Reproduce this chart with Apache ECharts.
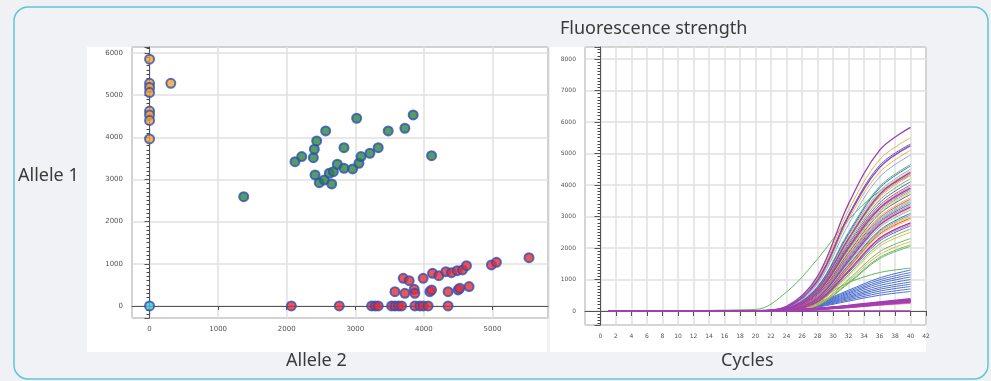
<!DOCTYPE html>
<html>
<head>
<meta charset="utf-8">
<title>Allele scatter and amplification curves</title>
<script src="https://cdn.jsdelivr.net/npm/echarts@6/dist/echarts.min.js"></script>
<style>
  html, body { margin: 0; padding: 0; background: #f0f1f4; }
  #chart { width: 991px; height: 381px; }
</style>
</head>
<body>
<div id="chart"></div>
<script>
// ---- scatter (Allele 2 on x, Allele 1 on y) ----
const allele1Points = [
  [0, 5850], [0, 5280], [0, 5180], [0, 5060], [0, 4620], [0, 4530], [0, 4400], [0, 3960], [310, 5280],
];
const heteroPoints = [
  [1373, 2590], [2121, 3422], [2219, 3541], [2388, 3517], [2403, 3716], [2437, 3913], [2568, 4150],
  [2413, 3106], [2475, 2924], [2548, 2988], [2656, 2893], [2621, 3147], [2680, 3185], [2738, 3360],
  [2835, 3265], [2835, 3754], [2961, 3249], [3053, 3384], [3083, 3541], [3213, 3621], [3334, 3754],
  [3020, 4451], [3480, 4150], [3723, 4214], [3844, 4529], [4112, 3564],
];
const allele2Points = [
  // bottom row
  [2067, 0], [2766, 0], [3238, 0], [3290, 0], [3334, 0], [3529, 0], [3578, 0], [3630, 0], [3675, 0],
  [3869, 0], [3941, 0], [3990, 0], [4062, 0], [4353, 0],
  // middle row
  [3578, 340], [3723, 301], [3859, 396], [3869, 300], [4087, 340], [4112, 380], [4353, 340],
  [4499, 380], [4523, 420], [4659, 459],
  // top row
  [3699, 656], [3786, 601], [3990, 656], [4126, 775], [4218, 719], [4320, 814], [4403, 790],
  [4485, 837], [4563, 854], [4621, 956], [4985, 972], [5058, 1036], [5533, 1145],
];
const blankPoints = [[0, 0]];

// ---- amplification curves, values read at these cycles ----
const cycles = [1, 20, 24, 28, 32, 36, 40];

const purpleCurves = [
  [0, 5, 150, 1100, 3400, 5100, 5830],
  [0, 5, 120, 950, 3000, 4550, 5250],
  [0, 5, 85, 700, 2300, 3700, 4400],
  [0, 5, 65, 570, 2000, 3260, 3900],
  [0, 5, 42, 400, 1580, 2730, 3300],
  [0, 5, 30, 300, 1280, 2310, 2800],
];
const orangeCurves = [
  [0, 5, 140, 1050, 3200, 4800, 5500],
  [0, 5, 110, 900, 2900, 4400, 5100],
  [0, 5, 80, 680, 2250, 3600, 4300],
  [0, 5, 55, 500, 1800, 3000, 3600],
  [0, 5, 35, 340, 1400, 2480, 3000],
  [0, 5, 25, 240, 1110, 2050, 2500],
  [0, 5, 20, 200, 950, 1790, 2200],
];
const blueCurves = [
  [0, 5, 130, 1000, 3050, 4620, 5300],
  [0, 5, 90, 760, 2450, 3900, 4600],
  [0, 5, 75, 640, 2120, 3430, 4100],
  [0, 5, 55, 520, 1850, 3080, 3700],
  [0, 5, 45, 430, 1650, 2820, 3400],
  [0, 5, 38, 360, 1460, 2560, 3100],
  [0, 5, 28, 280, 1220, 2220, 2700],
];
const lightBlueCurves = [
  [0, 5, 100, 860, 2750, 4250, 4950],
  [0, 5, 90, 740, 2400, 3800, 4500],
  [0, 5, 70, 600, 2030, 3300, 3950],
  [0, 5, 50, 460, 1720, 2900, 3500],
  [0, 5, 40, 380, 1520, 2650, 3200],
];
const greenCurves = [
  [0, 50, 600, 1650, 2900, 3800, 4300],
  [0, 5, 95, 780, 2500, 3950, 4650],
  [0, 5, 75, 660, 2180, 3520, 4200],
  [0, 5, 60, 560, 1930, 3170, 3800],
  [0, 5, 48, 450, 1690, 2860, 3450],
  [0, 5, 36, 350, 1430, 2520, 3050],
  [0, 5, 26, 260, 1160, 2130, 2600],
  [0, 5, 22, 210, 1000, 1880, 2300],
  [0, 5, 18, 180, 900, 1700, 2100],
  [0, 5, 18, 175, 870, 1660, 2050],
];
const yellowCurves = [
  [0, 5, 85, 720, 2350, 3750, 4450],
  [0, 5, 60, 540, 1900, 3130, 3750],
  [0, 5, 40, 390, 1550, 2690, 3250],
  [0, 5, 33, 320, 1340, 2400, 2900],
];
const pinkCurves = [
  [0, 5, 80, 690, 2250, 3650, 4350],
  [0, 5, 65, 570, 1980, 3220, 3850],
  [0, 5, 45, 420, 1620, 2780, 3350],
  [0, 5, 30, 290, 1250, 2270, 2750],
];
const redCurves = [
  [0, 5, 70, 620, 2060, 3350, 4000],
  [0, 5, 50, 480, 1760, 2950, 3550],
  [0, 5, 34, 330, 1370, 2440, 2950],
];
// late, weak group
const lowGreenCurves = [
  [0, 0, 60, 380, 900, 1220, 1360],
];
const lowBlueCurves = [
  [0, 0, 55, 270, 660, 1050, 1300],
  [0, 0, 50, 250, 620, 990, 1220],
  [0, 0, 46, 230, 580, 930, 1150],
  [0, 0, 43, 215, 545, 875, 1080],
  [0, 0, 40, 200, 505, 810, 1000],
  [0, 0, 36, 185, 465, 745, 920],
  [0, 0, 34, 170, 430, 690, 850],
  [0, 0, 31, 155, 395, 630, 780],
  [0, 0, 28, 140, 355, 565, 700],
  [0, 0, 25, 124, 315, 500, 620],
];
const lowPurpleCurves = [
  [0, 0, 20, 80, 170, 280, 380],
  [0, 0, 18, 75, 160, 265, 360],
  [0, 0, 17, 70, 150, 250, 340],
  [0, 0, 16, 66, 140, 235, 320],
  [0, 0, 15, 62, 132, 220, 300],
  [0, 0, 14, 60, 128, 212, 290],
];
const lowPinkCurves = [
  [0, 0, 12, 55, 125, 200, 270],
  [0, 0, 10, 50, 115, 188, 255],
];
const flatCurves = [
  [0, 0, 0, 0, 0, 0, 0],
];

const chart = echarts.init(document.getElementById("chart"), null, { renderer: "canvas" });

const plain = (v) => String(v); // no thousands separator, like the original
const tickFont = { color: "#555", fontSize: 7, fontFamily: "DejaVu Sans", formatter: plain };
const gridLine = { show: true, lineStyle: { color: "#e0e0e0", width: 1.5 } };
const axisLine = { show: true, lineStyle: { color: "#555", width: 1 } };

// turn one colour group into line series
const curveSeries = (groups) =>
  groups.flatMap(([rows, color, width]) =>
    rows.map((row) => ({
      type: "line",
      xAxisIndex: 1,
      yAxisIndex: 1,
      data: cycles.map((c, i) => [c, row[i]]),
      showSymbol: false,
      smooth: 0.35,
      silent: true,
      lineStyle: { color, width },
      itemStyle: { color },
    }))
  );

const dot = (color) => ({
  type: "scatter",
  xAxisIndex: 0,
  yAxisIndex: 0,
  symbolSize: 9,
  itemStyle: { color, borderColor: "#2f4fb8", borderWidth: 2 },
});

const option = {
  backgroundColor: "#f0f1f4",
  animation: false,
  graphic: [
    { type: "rect", z: -10, shape: { x: 14, y: 7, width: 974, height: 372, r: 14 }, style: { fill: "#f1f2f5", stroke: "#5fc6d8", lineWidth: 1.5 } },
    { type: "rect", z: -5, shape: { x: 87, y: 47, width: 460, height: 305 }, style: { fill: "#ffffff" } },
    { type: "rect", z: -5, shape: { x: 550, y: 47, width: 376, height: 305 }, style: { fill: "#ffffff" } },
    { type: "text", left: 18, top: 167, style: { text: "Allele 1", font: '18px "Noto Sans"', fill: "#3a3a3a" } },
    { type: "text", left: 286, top: 352, style: { text: "Allele 2", font: '18px "Noto Sans"', fill: "#3a3a3a" } },
    { type: "text", left: 721, top: 352, style: { text: "Cycles", font: '18px "Noto Sans"', fill: "#3a3a3a" } },
    { type: "text", left: 560, top: 20, style: { text: "Fluorescence strength", font: '18px "Noto Sans"', fill: "#3a3a3a" } },
  ],
  grid: [
    { left: 132, top: 47, width: 416, height: 271, show: true, borderColor: "#555", borderWidth: 1, backgroundColor: "transparent" },
    { left: 585, top: 47, width: 341, height: 278, show: true, borderColor: "#666", borderWidth: 1, backgroundColor: "transparent" },
  ],
  xAxis: [
    {
      gridIndex: 0, type: "value", min: -256, max: 5810, splitNumber: 6,
      axisLine, axisTick: { show: true, length: 4, lineStyle: { color: "#555" } },
      axisLabel: { ...tickFont, margin: 8, showMinLabel: false, showMaxLabel: false },
      splitLine: gridLine,
    },
    {
      gridIndex: 1, type: "value", min: -2, max: 42, interval: 2,
      axisLine, axisTick: { show: true, length: 5, lineStyle: { color: "#555" } },
      axisLabel: { ...tickFont, fontSize: 6, margin: 8, showMinLabel: false, showMaxLabel: true },
      splitLine: gridLine,
    },
  ],
  yAxis: [
    {
      gridIndex: 0, type: "value", min: -285, max: 6140, splitNumber: 6,
      axisLine, axisTick: { show: true, length: 5, lineStyle: { color: "#555" } },
      minorTick: { show: true, splitNumber: 10, length: 3, lineStyle: { color: "#444" } },
      axisLabel: { ...tickFont, margin: 9, showMinLabel: false, showMaxLabel: false },
      splitLine: gridLine,
    },
    {
      gridIndex: 1, type: "value", min: -444, max: 8380, splitNumber: 9,
      axisLine, axisTick: { show: true, length: 6, lineStyle: { color: "#555" } },
      minorTick: { show: true, splitNumber: 10, length: 3, lineStyle: { color: "#444" } },
      axisLabel: { ...tickFont, fontSize: 6, margin: 9, showMinLabel: false, showMaxLabel: false },
      splitLine: gridLine,
    },
  ],
  series: [
    { ...dot("#f5a02e"), data: allele1Points },
    { ...dot("#2a8438"), data: heteroPoints },
    { ...dot("#ec2a2a"), data: allele2Points },
    { ...dot("#45c4cc"), data: blankPoints },
    ...curveSeries([
      [lowBlueCurves, "#4a6dcc", 1],
      [lowGreenCurves, "#5cb85c", 1],
      [greenCurves, "#62bd62", 1],
      [orangeCurves, "#f3b04a", 1],
      [lightBlueCurves, "#86aee6", 1],
      [yellowCurves, "#e8d05a", 1],
      [blueCurves, "#4169c8", 1],
      [pinkCurves, "#f0679a", 1],
      [redCurves, "#e84a3c", 1],
      [purpleCurves, "#9b3fb0", 1.3],
      [lowPinkCurves, "#f0679a", 1.5],
      [lowPurpleCurves, "#a23fb3", 2],
      [flatCurves, "#a23fb3", 1.5],
    ]),
  ],
};

chart.setOption(option);
</script>
</body>
</html>
